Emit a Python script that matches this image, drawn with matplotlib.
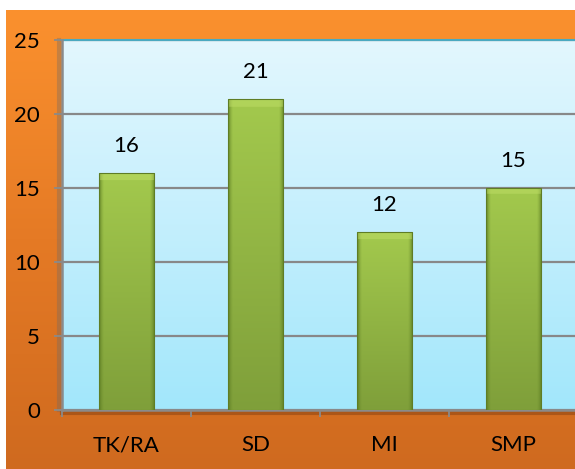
import numpy as np
import matplotlib
matplotlib.use("Agg")
import matplotlib.pyplot as plt
from matplotlib.colors import LinearSegmentedColormap, to_rgb
from matplotlib.lines import Line2D

categories = ["TK/RA", "SD", "MI", "SMP"]
values = [16, 21, 12, 15]
yticks = [0, 5, 10, 15, 20, 25]

plt.rcParams['font.family'] = ['Lato', 'DejaVu Sans']

fig = plt.figure(figsize=(5.75, 4.69), dpi=100, facecolor="white")

# orange chart background with vertical gradient
bg = fig.add_axes([6 / 575, 0, 1 - 6 / 575, (469 - 10) / 469], zorder=0)
bg.axis("off")
orange = LinearSegmentedColormap.from_list("orange", ["#cf6a1f", "#e57a25", "#fb912e"])
bg.imshow(np.linspace(0, 1, 256).reshape(-1, 1), cmap=orange, origin="lower",
          aspect="auto", extent=[0, 1, 0, 1])

ax = fig.add_axes([62 / 575, (469 - 410) / 469, 516 / 575, 370 / 469], zorder=1)
ax.patch.set_alpha(0)

# light blue plot area
blue = LinearSegmentedColormap.from_list("blue", ["#a2e7fb", "#c4effd", "#e3f7fe"])
ax.imshow(np.linspace(0, 1, 256).reshape(-1, 1), cmap=blue, origin="lower",
          aspect="auto", extent=[0, 1, 0, 1], transform=ax.transAxes, zorder=0)

x = np.arange(len(categories))
bars = ax.bar(x, values, width=0.43, color="#8fb642", edgecolor="#5f7d25",
              linewidth=0.8, zorder=3)

# green fill: lighter at the top, darker at the bottom, dark thin sides
top_c = np.array(to_rgb("#a3c94d"))
bot_c = np.array(to_rgb("#7f9f3a"))
edge_c = np.array(to_rgb("#5a7a22"))
nx, ny = 80, 200
gx = np.linspace(0, 1, nx)
gy = np.linspace(0, 1, ny)
GX, GY = np.meshgrid(gx, gy)
body = bot_c[None, None, :] + (top_c - bot_c)[None, None, :] * GY[..., None]
d = np.minimum(GX, 1 - GX)
edge_w = np.clip(1 - d / 0.09, 0, 1)[..., None] ** 1.5
fill = body * (1 - 0.8 * edge_w) + edge_c * 0.8 * edge_w

for b in bars:
    x0, w, h = b.get_x(), b.get_width(), b.get_height()
    img = fill.copy()
    # light bevel strip at the top of each bar
    top_frac = 0.45 / h
    band = GY > 1 - top_frac
    img[band] = img[band] * 0.55 + np.array(to_rgb("#c2e06a")) * 0.45
    im = ax.imshow(img, origin="lower", aspect="auto",
                   extent=[x0, x0 + w, 0, h], zorder=3.5)
    im.set_clip_path(b)
    b.set_facecolor("none")
    b.set_zorder(4)

for xi, v in zip(x, values):
    ax.text(xi, v + 1.15, str(v), ha="center", va="bottom", fontsize=16, color="black", zorder=5)

ax.set_xlim(-0.5, 3.5)
ax.set_ylim(0, 25)
ax.set_yticks(yticks)
ax.set_xticks(x)
ax.set_xticklabels(categories)
ax.set_xticks(np.arange(-0.5, 4.0, 1.0), minor=True)
ax.tick_params(axis="x", which="major", length=0, pad=18, labelsize=16)
ax.tick_params(axis="x", which="minor", length=5, width=1.3, color="#8a8a8a", direction="out")
ax.tick_params(axis="y", length=6, width=1.3, color="#8a8a8a", pad=10, labelsize=16)

ax.yaxis.grid(True, color="#888888", linewidth=1.6, zorder=1)
ax.set_axisbelow(True)
for s in ["top", "right"]:
    ax.spines[s].set_visible(False)
ax.spines["left"].set_color("#8a8a8a")
ax.spines["left"].set_linewidth(1.8)
ax.spines["bottom"].set_color("#8a8a8a")
ax.spines["bottom"].set_linewidth(1.8)

# thin teal line along the top of the plot area
ax.add_line(Line2D([0, 1], [1, 1], transform=ax.transAxes, color="#4aa9c0",
                   linewidth=1.5, clip_on=False, zorder=2))
# soft shadows under the axis lines
ax.add_line(Line2D([0, 1], [-0.008, -0.008], transform=ax.transAxes, color="#7a3a10",
                   alpha=0.45, linewidth=3, clip_on=False, zorder=0.5))
ax.add_line(Line2D([-0.006, -0.006], [0, 1], transform=ax.transAxes, color="#6a6a6a",
                   alpha=0.35, linewidth=3, clip_on=False, zorder=0.5))

fig.savefig("out.png", dpi=100)
